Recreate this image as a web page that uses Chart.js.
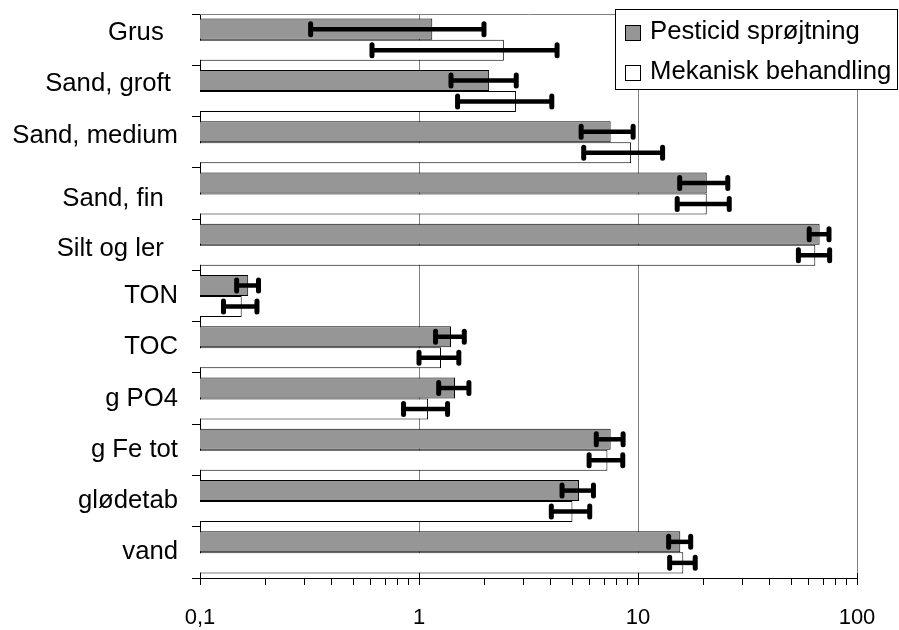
<!DOCTYPE html>
<html>
<head>
<meta charset="utf-8">
<script src="https://cdn.jsdelivr.net/npm/chart.js@4.4.1/dist/chart.umd.min.js"></script>
<style>
  html, body { margin: 0; padding: 0; background: #fff; }
  #wrap { width: 899px; height: 630px; }
</style>
</head>
<body>
<div id="wrap"><canvas id="chart" width="899" height="630"></canvas></div>
<script>
// ─── Data ────────────────────────────────────────────────────────────────────
const CATEGORIES = ['Grus  ', 'Sand, groft ', 'Sand, medium', 'Sand, fin  ', 'Silt og ler  ',
                    'TON', 'TOC', 'g PO4', 'g Fe tot', 'glødetab', 'vand'];

const PESTICID     = [1.15, 2.09, 7.5, 20.6, 67.5, 0.166, 1.40, 1.46, 7.5, 5.38, 15.6];
const PESTICID_ERR = [0.83, 0.69, 2.0, 5.1,  7.0,  0.019, 0.21, 0.23, 1.05, 0.88, 1.8];

const MEKANISK     = [2.44, 2.77, 9.3,  20.6, 64.5, 0.155, 1.26, 1.10, 7.25, 5.02, 16.1];
const MEKANISK_ERR = [1.83, 1.27, 3.65, 5.5,  10.5, 0.027, 0.26, 0.25, 1.27, 1.0,  2.15];

const X_TICK_VALUES = [0.1, 1, 10, 100];
const X_TICK_LABELS = ['0,1', '1', '10', '100'];
const X_MINOR_STEPS = [2, 3, 4, 5, 6, 7, 8, 9];

// ─── Style ───────────────────────────────────────────────────────────────────
const FONT = '"Liberation Sans", Arial, sans-serif';
const GREY = '#969696';
const GRID = '#808080';
// the category labels of the upper rows don't sit quite centred on their rows
const LABEL_NUDGE = [-7, -7, -6, 5, 4, 0, 0, 0, 0, 0, 0];

function majorLabel(v) {
  const i = X_TICK_VALUES.findIndex(t => Math.abs(t - v) / t < 1e-6);
  return i >= 0 ? X_TICK_LABELS[i] : null;
}

// error bars: thick black line with rounded end caps
const errorBars = {
  id: 'errorBars',
  afterDatasetsDraw(chart) {
    const { ctx } = chart;
    const xs = chart.scales.x;
    ctx.save();
    ctx.strokeStyle = '#000';
    chart.data.datasets.forEach((ds, di) => {
      const meta = chart.getDatasetMeta(di);
      meta.data.forEach((bar, i) => {
        const v = ds.data[i], e = ds.errors[i];
        const x0 = xs.getPixelForValue(v - e);
        const x1 = xs.getPixelForValue(v + e);
        const y = bar.y;
        ctx.lineCap = 'butt';
        ctx.lineWidth = 4.5;
        ctx.beginPath(); ctx.moveTo(x0, y); ctx.lineTo(x1, y); ctx.stroke();
        ctx.lineCap = 'round';
        ctx.lineWidth = 5;
        [x0, x1].forEach(x => {
          ctx.beginPath(); ctx.moveTo(x, y - 5.5); ctx.lineTo(x, y + 5.5); ctx.stroke();
        });
      });
    });
    ctx.restore();
  }
};

// top frame line, upward stubs on the major x ticks, and the row labels
const frame = {
  id: 'frame',
  beforeDatasetsDraw(chart) {
    const { ctx, chartArea: a } = chart;
    ctx.save();
    ctx.strokeStyle = GRID;
    ctx.lineWidth = 1;
    ctx.beginPath(); ctx.moveTo(a.left, a.top + 0.5); ctx.lineTo(a.right, a.top + 0.5); ctx.stroke();
    ctx.restore();
  },
  afterDraw(chart) {
    const { ctx, chartArea: a } = chart;
    const xs = chart.scales.x, ys = chart.scales.y;
    ctx.save();
    ctx.strokeStyle = '#000';
    ctx.lineWidth = 1;
    X_TICK_VALUES.forEach(v => {
      const x = Math.round(xs.getPixelForValue(v)) + 0.5;
      ctx.beginPath(); ctx.moveTo(x, a.bottom - 5); ctx.lineTo(x, a.bottom); ctx.stroke();
    });
    ctx.font = '25.7px ' + FONT;
    ctx.fillStyle = '#000';
    ctx.textAlign = 'right';
    ctx.textBaseline = 'middle';
    chart.data.labels.forEach((lab, i) => {
      ctx.fillText(lab, a.left - 22, ys.getPixelForTick(i) + LABEL_NUDGE[i]);
    });
    ctx.restore();
  }
};

// boxed legend in the upper right corner
const boxLegend = {
  id: 'boxLegend',
  afterDraw(chart) {
    const { ctx } = chart;
    const left = 615.5, top = 9.5, right = 897.5, bottom = 89.5;
    ctx.save();
    ctx.fillStyle = '#fff';
    ctx.fillRect(left, top, right - left, bottom - top);
    ctx.strokeStyle = '#000';
    ctx.lineWidth = 1;
    ctx.strokeRect(left, top, right - left, bottom - top);
    ctx.font = '25.7px ' + FONT;
    ctx.textBaseline = 'middle';
    ctx.textAlign = 'left';
    chart.data.datasets.forEach((ds, i) => {
      const cy = 32 + i * 40;
      ctx.fillStyle = ds.backgroundColor;
      ctx.fillRect(625.5, cy - 6.5, 15, 15);
      ctx.strokeRect(625.5, cy - 6.5, 15, 15);
      ctx.fillStyle = '#000';
      ctx.fillText(ds.label, 650, cy);
    });
    ctx.restore();
  }
};

new Chart(document.getElementById('chart'), {
  type: 'bar',
  data: {
    labels: CATEGORIES,
    datasets: [
      { label: 'Pesticid sprøjtning', data: PESTICID, errors: PESTICID_ERR,
        backgroundColor: GREY, borderColor: '#000', borderWidth: 1 },
      { label: 'Mekanisk behandling', data: MEKANISK, errors: MEKANISK_ERR,
        backgroundColor: '#fff', borderColor: '#000', borderWidth: 1 },
    ]
  },
  options: {
    indexAxis: 'y',
    responsive: false,
    animation: false,
    layout: { padding: { top: 14, right: 42, left: 0, bottom: 0 } },
    datasets: { bar: { categoryPercentage: 0.82, barPercentage: 1 } },
    plugins: { legend: { display: false }, tooltip: { enabled: false } },
    scales: {
      y: {
        type: 'category',
        offset: true,
        grid: { display: true, drawOnChartArea: false, offset: true, tickLength: 8, color: '#000' },
        border: { color: '#000', width: 1 },
        ticks: { display: false },
        afterFit(scale) { scale.width = 200; scale.paddingTop = 0; scale.paddingBottom = 0; }
      },
      x: {
        type: 'logarithmic',
        min: 0.1,
        max: 100,
        afterBuildTicks(scale) {
          const ticks = [];
          X_TICK_VALUES.slice(0, -1).forEach(d => {
            ticks.push({ value: d, major: true });
            X_MINOR_STEPS.forEach(s => ticks.push({ value: d * s, major: false }));
          });
          ticks.push({ value: X_TICK_VALUES[X_TICK_VALUES.length - 1], major: true });
          scale.ticks = ticks;
        },
        grid: {
          color: c => (c.tick && c.tick.major && c.tick.value > 0.1 ? GRID : 'rgba(0,0,0,0)'),
          tickColor: '#000',
          tickLength: 7,
        },
        border: { color: '#000', width: 1 },
        ticks: {
          autoSkip: false,
          maxRotation: 0,
          color: '#000',
          padding: 20,
          font: { family: FONT, size: 22 },
          callback: v => majorLabel(v) ?? ''
        },
        afterFit(scale) { scale.height = 52; scale.paddingLeft = 0; }
      }
    }
  },
  plugins: [frame, errorBars, boxLegend]
});
</script>
</body>
</html>
